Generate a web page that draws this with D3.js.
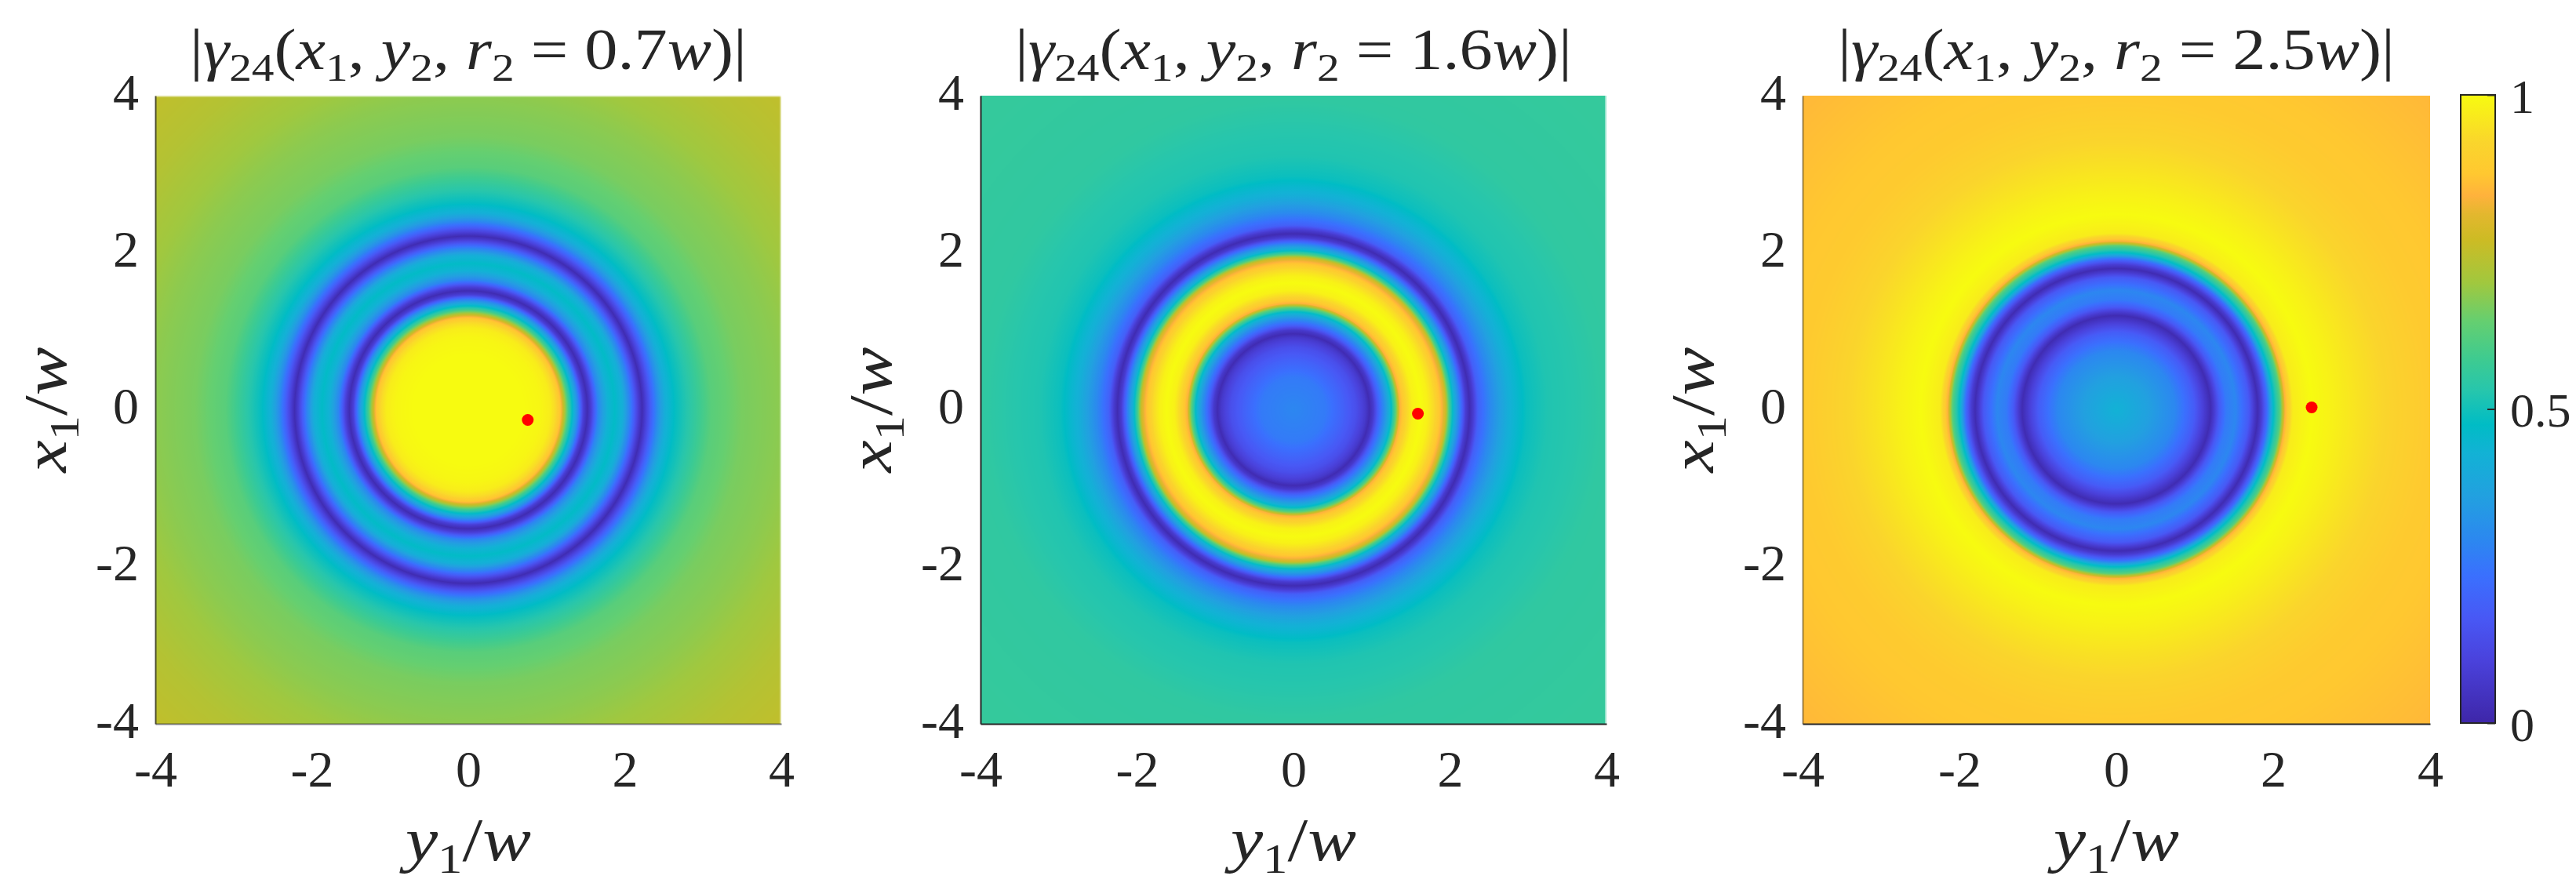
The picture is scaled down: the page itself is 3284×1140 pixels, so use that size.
<!DOCTYPE html>
<html><head><meta charset="utf-8">
<script src="https://cdn.jsdelivr.net/npm/d3@7"></script>
<style>html,body{margin:0;padding:0;background:#fff}svg{display:block}svg text{font-family:'Liberation Serif','Times New Roman','DejaVu Serif',serif !important;fill:#262626}</style>
</head><body><svg id="c" width="3284" height="1140"></svg>
<script>
const tickValues=[-4,-2,0,2,4];
const cbTicks=[0,0.5,1];
const panelNames=["0.7","1.6","2.5"];
// radial profiles: distance from centre (w) and |gamma|
const radiusA=[0,0.3,0.7,0.93,1.05,1.12,1.18,1.23,1.28,1.33,1.40,1.47,1.52,1.57,1.66,1.78,1.87,1.97,2.07,2.17,2.22,2.27,2.33,2.42,2.52,2.64,2.8,3.1,3.5,4,4.5,5,5.66];
const valueA=[1,1,1,0.99,0.97,0.93,0.86,0.72,0.58,0.47,0.3,0.09,0.02,0.09,0.29,0.43,0.47,0.42,0.27,0.09,0.02,0.09,0.18,0.31,0.42,0.48,0.53,0.62,0.66,0.68,0.705,0.73,0.75];
const radiusB=[0,0.41,0.645,0.8,0.92,0.97,1.02,1.08,1.18,1.25,1.31,1.36,1.44,1.52,1.62,1.71,1.8,1.88,1.94,1.99,2.05,2.12,2.2,2.25,2.3,2.36,2.52,2.75,2.98,3.25,3.58,3.97,5.66];
const valueB=[0.29,0.26,0.19,0.14,0.07,0.02,0.07,0.19,0.34,0.47,0.64,0.84,0.92,0.98,1,0.98,0.93,0.86,0.78,0.6,0.43,0.28,0.08,0.02,0.08,0.19,0.3,0.42,0.49,0.52,0.53,0.55,0.56];
const radiusC=[0,0.42,0.75,0.99,1.12,1.2,1.25,1.31,1.4,1.52,1.69,1.75,1.8,1.85,1.92,2.0,2.09,2.15,2.25,2.49,2.75,3.09,3.59,3.97,5.66];
const valueC=[0.43,0.36,0.29,0.18,0.08,0.02,0.08,0.17,0.26,0.29,0.17,0.08,0.02,0.08,0.22,0.47,0.62,0.84,0.97,1,0.98,0.95,0.91,0.885,0.85];
const dotY=[0.76,1.59,2.49];
const dotX=[-0.13,-0.05,0.03];
const cmapPos=[0,0.1,0.167,0.235,0.29,0.36,0.43,0.475,0.53,0.58,0.64,0.70,0.77,0.81,0.84,0.875,0.924,1];
const cmapCol=["#3E26A8","#4A42DC","#4858F5","#3A70FE","#2C87F0","#22A0E0","#12B2D5","#00BCC5","#27C6AC","#3ECB90","#65CF70","#A0C83F","#CDBB24","#E3B72E","#FFB23C","#FFC830","#FAD52C","#F7FB10"];
const profiles=[[radiusA,valueA],[radiusB,valueB],[radiusC,valueC]];
const panelLeft=[198,1250,2298], panelWidth=[798,798,800], panelTop=122, panelBottom=923;
const leftLineOpacity=[0.75,1,0.45], bottomLineOpacity=[0.6,1,1];
const topGlow=[0.45,0,0], rightGlow=[0.45,0.5,0];

const svg=d3.select("#c");
const defs=svg.append("defs");
const cmap=d3.scaleLinear().domain(cmapPos).range(cmapCol).clamp(true);

function mathText(g,x,y,size,parts,anchor,len){
  const t=g.append("text").attr("x",x).attr("y",y).attr("font-size",size).attr("text-anchor",anchor);
  if(len)t.attr("textLength",len).attr("lengthAdjust","spacingAndGlyphs");
  let prev=0;
  parts.forEach(p=>{
    const shift=p.sub?size*0.2:0;
    t.append("tspan").attr("dy",shift-prev).attr("font-size",p.sub?size*0.68:size)
     .attr("font-style",p.it?"italic":"normal").text(p.t);
    prev=shift;
  });
  return t;
}

panelNames.forEach((label,i)=>{
  const L=panelLeft[i],W=panelWidth[i];
  const x=d3.scaleLinear().domain([-4,4]).range([L,L+W]);
  const y=d3.scaleLinear().domain([-4,4]).range([panelBottom,panelTop]);
  const rMax=5.66;
  const prof=d3.scaleLinear().domain(profiles[i][0]).range(profiles[i][1]);
  const gr=defs.append("radialGradient").attr("id","g"+i).attr("gradientUnits","userSpaceOnUse")
    .attr("cx",x(0)).attr("cy",y(0)).attr("fx",x(0)).attr("fy",y(0)).attr("r",x(rMax)-x(0));
  gr.selectAll("stop").data(d3.range(0,rMax+0.001,0.01)).join("stop")
    .attr("offset",d=>d/rMax).attr("stop-color",d=>cmap(prof(d)));
  const g=svg.append("g");
  g.append("rect").attr("x",x(-4)).attr("y",y(4)).attr("width",x(4)-x(-4)).attr("height",y(-4)-y(4)).attr("fill",`url(#g${i})`);
  g.append("line").attr("x1",x(-4)).attr("x2",x(4)).attr("y1",y(4)+1).attr("y2",y(4)+1).attr("stroke","#fff").attr("stroke-width",2).attr("stroke-opacity",topGlow[i]);
  g.append("line").attr("x1",x(4)-1).attr("x2",x(4)-1).attr("y1",y(4)).attr("y2",y(-4)).attr("stroke","#fff").attr("stroke-width",2).attr("stroke-opacity",rightGlow[i]);
  const ax=g.append("g").attr("transform",`translate(0,${y(-4)})`).call(d3.axisBottom(x).tickValues(tickValues).tickSize(0).tickFormat(d=>String(d)));
  const ay=g.append("g").attr("transform",`translate(${x(-4)},0)`).call(d3.axisLeft(y).tickValues(tickValues).tickSize(0).tickPadding(21).tickFormat(d=>String(d)));
  [ax,ay].forEach(a=>{a.selectAll("text").attr("font-size",66);a.select(".domain").attr("stroke","#262626").attr("stroke-width",2);});
  ax.select(".domain").attr("stroke-opacity",bottomLineOpacity[i]);
  ay.select(".domain").attr("stroke-opacity",leftLineOpacity[i]);
  ax.selectAll("text").attr("y",80).attr("dy",0);
  ay.selectAll("text").attr("dy",17);
  g.append("circle").attr("cx",x(dotY[i])).attr("cy",y(dotX[i])).attr("r",7.5).attr("fill","#ff0000");
  const cx=x(0);
  mathText(g,cx,88,74,[{t:"|"},{t:"γ",it:1},{t:"24",sub:1},{t:"("},{t:"x",it:1},{t:"1",sub:1},{t:", "},{t:"y",it:1},{t:"2",sub:1},{t:", "},{t:"r",it:1},{t:"2",sub:1},{t:" = "+label},{t:"w",it:1},{t:")|"}],"middle",710);
  mathText(g,cx,1097,78,[{t:"y",it:1},{t:"1",sub:1},{t:"/"},{t:"w",it:1}],"middle",160);
  const yl=g.append("g").attr("transform",`translate(${x(-4)-114},${y(0)}) rotate(-90)`);
  mathText(yl,0,0,78,[{t:"x",it:1},{t:"1",sub:1},{t:"/"},{t:"w",it:1}],"middle",160);
});

// colourbar
const cb=svg.append("g");
const cbY=d3.scaleLinear().domain([0,1]).range([922,121]);
const lg=defs.append("linearGradient").attr("id","cbg").attr("x1",0).attr("x2",0).attr("y1",1).attr("y2",0);
lg.selectAll("stop").data(cmapPos).join("stop").attr("offset",d=>d).attr("stop-color",d=>cmap(d));
cb.append("rect").attr("x",3137).attr("y",cbY(1)).attr("width",44).attr("height",cbY(0)-cbY(1)).attr("fill","url(#cbg)").attr("stroke","#262626").attr("stroke-width",2);
const cbAxis=cb.append("g").attr("transform","translate(3181,0)").call(d3.axisRight(cbY).tickValues(cbTicks).tickSize(-10).tickPadding(19).tickFormat(d=>String(d)));
cbAxis.select(".domain").remove();
cbAxis.selectAll("line").attr("stroke","#262626").attr("stroke-width",2);
cbAxis.selectAll("text").attr("font-size",62).attr("dy","0.36em");
</script></body></html>
